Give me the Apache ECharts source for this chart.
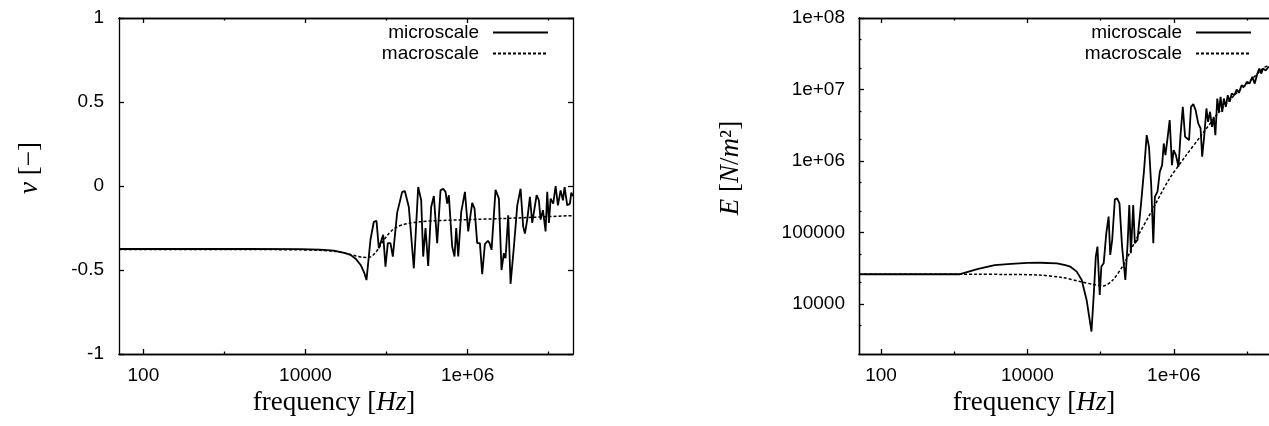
<!DOCTYPE html>
<html>
<head>
<meta charset="utf-8">
<script src="https://cdn.jsdelivr.net/npm/echarts@6/dist/echarts.min.js"></script>
<style>
html,body{margin:0;padding:0;background:#fff;}
#chart{width:1269px;height:426px;}
</style>
</head>
<body>
<div id="chart"></div>
<script>
// ---------- data ----------
const leftMicroFreq = [50, 300, 2000, 8670, 15000, 22400, 30000, 35900, 42000, 48000, 53000, 56600, 63400, 69700, 75200, 80400, 90900, 97100, 103800, 111900, 119600, 135200, 156000, 168300, 188400, 217300, 245900, 267800, 283400, 302700, 326600, 355600, 383700, 402400, 421700, 463700, 500400, 534800, 560700, 587500, 645700, 690500, 724400, 767200, 835700, 927500, 1019000, 1141000, 1219000, 1315000, 1419000, 1516000, 1636000, 1782000, 1868000, 1977000, 2215000, 2435000, 2624000, 2807000, 2942000, 3175000, 3394000, 3733000, 4105000, 4510000, 4860000, 5100000, 5450000, 5880000, 6280000, 6590000, 7110000, 7590000, 7960000, 8510000, 9180000, 9620000, 10090000, 10590000, 11410000, 12200000, 13030000, 14060000, 15030000, 15750000, 16990000, 18330000, 19040000, 20000000];
const leftMicroNu = [-0.375, -0.375, -0.375, -0.376, -0.379, -0.385, -0.398, -0.41, -0.435, -0.47, -0.515, -0.56, -0.32, -0.213, -0.208, -0.37, -0.29, -0.48, -0.34, -0.34, -0.42, -0.16, -0.035, -0.03, -0.125, -0.49, -0.006, -0.085, -0.42, -0.25, -0.476, -0.125, -0.06, -0.055, -0.34, -0.026, -0.016, -0.035, -0.105, -0.055, -0.36, -0.42, -0.25, -0.42, -0.154, -0.035, -0.27, -0.10, -0.134, -0.34, -0.34, -0.525, -0.346, -0.326, -0.34, -0.38, -0.022, -0.075, -0.5, -0.40, -0.43, -0.174, -0.583, -0.36, -0.115, -0.016, -0.243, -0.283, -0.20, -0.065, -0.22, -0.22, -0.055, -0.085, -0.20, -0.144, -0.27, -0.035, -0.22, -0.075, -0.105, 0.0, -0.115, -0.026, -0.085, -0.006, -0.115, -0.105, -0.04, -0.06];

const leftMacroFreq = [50, 2000, 8670, 15000, 22400, 30000, 35900, 43000, 50000, 58000, 65000, 72000, 80400, 90000, 103800, 118000, 135200, 160000, 188400, 260000, 383700, 1019000, 2624000, 6590000, 20000000];
const leftMacroNu = [-0.378, -0.378, -0.38, -0.383, -0.388, -0.398, -0.407, -0.418, -0.424, -0.425, -0.42, -0.4, -0.37, -0.33, -0.29, -0.262, -0.243, -0.23, -0.222, -0.213, -0.207, -0.2, -0.194, -0.186, -0.176];

const rightMicroFreq = [50, 500, 1200, 2130, 3570, 6000, 10000, 15000, 25400, 33000, 38400, 47200, 55200, 64400, 75100, 80900, 86000, 90600, 97300, 102500, 110200, 119600, 128700, 135500, 144100, 156600, 168300, 181100, 196500, 217800, 234200, 246700, 259500, 279100, 293800, 319100, 353900, 392600, 426500, 458400, 492800, 524800, 552100, 599500, 644200, 692800, 729400, 769100, 826000, 879000, 944000, 995000, 1069000, 1161000, 1236000, 1328000, 1428000, 1519000, 1617000, 1720000, 1849000, 1988000, 2159000, 2323000, 2443000, 2600000, 2794000, 2942000, 3130000, 3330000, 3510000, 3700000, 3930000, 4140000, 4360000, 4590000, 4830000, 5140000, 5470000, 5820000, 6190000, 6730000, 7230000, 7780000, 8440000, 9160000, 9950000, 10810000, 11860000, 12760000, 13870000, 14750000, 15700000, 16520000, 18000000, 20000000];
const rightMicroE = [26100, 26100, 26100, 31000, 35000, 36500, 37500, 37800, 37100, 35000, 33400, 28400, 21700, 11400, 4120, 14200, 46000, 63500, 13400, 33400, 37100, 97500, 166700, 48500, 78700, 291000, 300600, 255900, 63500, 21700, 70700, 242600, 51200, 242600, 70700, 78700, 229600, 746500, 2300000, 1580000, 437500, 70700, 317000, 372400, 708100, 877000, 1760000, 1210000, 2180000, 3730000, 877000, 1420000, 1210000, 832000, 2300000, 5730000, 2180000, 2070000, 1960000, 5730000, 6240000, 5140000, 3350000, 2850000, 1150000, 2180000, 5430000, 3530000, 4880000, 3010000, 4150000, 2300000, 7480000, 4880000, 7900000, 4880000, 7480000, 5730000, 8340000, 6730000, 8800000, 8340000, 10000000, 8980000, 11500000, 10900000, 12800000, 12100000, 15000000, 12100000, 16700000, 19600000, 16700000, 19600000, 18500000, 21000000];

const rightMacroFreq = [50, 2000, 5000, 13700, 30000, 52400, 80000, 108000, 147000, 211000, 303000, 508000, 851000, 1430000, 2390000, 4010000, 6730000, 11300000, 16500000, 20000000];
const rightMacroE = [26100, 26100, 25900, 25500, 23500, 20600, 18800, 17900, 21700, 37100, 78700, 206000, 542000, 1150000, 2300000, 4620000, 8340000, 13500000, 19600000, 22000000];

const seriesNames = ['microscale', 'macroscale'];

// tick values / labels
const freqMajorTicks = [100, 10000, 1000000];
const freqMajorLabels = ['100', '10000', '1e+06'];
const freqMinorTicks = [1000, 100000, 10000000];
const nuTicks = [-1, -0.5, 0, 0.5, 1];
const nuLabels = ['-1', '-0.5', '0', '0.5', '1'];
const eMajorTicks = [10000, 100000, 1000000, 10000000, 100000000];
const eMajorLabels = ['10000', '100000', '1e+06', '1e+07', '1e+08'];
const eMinorTicks = [5000, 20000, 50000, 200000, 500000, 2000000, 5000000, 20000000, 50000000];

// ---------- helpers ----------
const SANS = '"Liberation Sans", Arial, Helvetica, sans-serif';
const SERIF = '"Liberation Serif", "Times New Roman", serif';
const BLACK = '#000';
function pair(xs, ys) { return xs.map((x, i) => [x, ys[i]]); }
function labelFor(ticks, labels) {
  return function (v) {
    for (let i = 0; i < ticks.length; i++) {
      if (Math.abs(v - ticks[i]) <= Math.abs(ticks[i]) * 1e-6 + 1e-9) return labels[i];
    }
    return '';
  };
}
const lineSt = { color: BLACK, width: 1.3 };

function freqAxes(grid, nameCfg) {
  const base = {
    gridIndex: grid, type: 'log', logBase: 10, min: 50, max: 20000000,
    splitLine: { show: false }, axisLine: { show: true, onZero: false, lineStyle: lineSt }
  };
  return [
    Object.assign({}, base, {
      position: 'bottom',
      axisTick: { show: true, inside: true, length: 5, customValues: freqMajorTicks, lineStyle: lineSt },
      axisLabel: { show: true, customValues: freqMajorTicks, formatter: labelFor(freqMajorTicks, freqMajorLabels), margin: 12, fontSize: 19, fontFamily: SANS, color: BLACK },
      name: 'frequency [{i|Hz}]', nameLocation: 'middle', nameGap: 35,
      nameTextStyle: { fontFamily: SERIF, fontSize: 27, color: BLACK, padding: nameCfg.pad,
        rich: { i: { fontFamily: SERIF, fontSize: 27, fontStyle: 'italic', color: BLACK } } }
    }),
    Object.assign({}, base, {
      position: 'bottom',
      axisTick: { show: true, inside: true, length: 2.5, customValues: freqMinorTicks, lineStyle: lineSt },
      axisLabel: { show: false }
    }),
    Object.assign({}, base, {
      position: 'top',
      axisTick: { show: true, inside: true, length: 5, customValues: freqMajorTicks, lineStyle: lineSt },
      axisLabel: { show: false }
    }),
    Object.assign({}, base, {
      position: 'top',
      axisTick: { show: true, inside: true, length: 2.5, customValues: freqMinorTicks, lineStyle: lineSt },
      axisLabel: { show: false }
    })
  ];
}

const xAxis = freqAxes(0, { pad: [0, 24, 0, 0] }).concat(freqAxes(1, { pad: [0, 60, 0, 0] }));

const nuBase = { gridIndex: 0, type: 'value', min: -1, max: 1, interval: 0.5, splitLine: { show: false },
  axisLine: { show: true, onZero: false, lineStyle: lineSt } };
const eBase = { gridIndex: 1, type: 'log', logBase: 10, min: 2000, max: 100000000, splitLine: { show: false },
  axisLine: { show: true, onZero: false, lineStyle: lineSt } };

const yAxis = [
  Object.assign({}, nuBase, {
    position: 'left',
    axisTick: { show: true, inside: true, length: 5, lineStyle: lineSt },
    axisLabel: { formatter: labelFor(nuTicks, nuLabels), margin: 15, fontSize: 19, fontFamily: SANS, color: BLACK },
    name: '{i|ν} [−]', nameLocation: 'middle', nameRotate: 90, nameGap: 76,
    nameTextStyle: { fontFamily: SERIF, fontSize: 27, color: BLACK, padding: [0, 0, 0, 36],
      rich: { i: { fontFamily: SERIF, fontSize: 27, fontStyle: 'italic', color: BLACK } } }
  }),
  Object.assign({}, nuBase, {
    position: 'right',
    axisTick: { show: true, inside: true, length: 5, lineStyle: lineSt },
    axisLabel: { show: false }
  }),
  Object.assign({}, eBase, {
    position: 'left',
    axisTick: { show: true, inside: true, length: 5, customValues: eMajorTicks, lineStyle: lineSt },
    axisLabel: { show: true, customValues: eMajorTicks, formatter: labelFor(eMajorTicks, eMajorLabels), margin: 14, fontSize: 19, fontFamily: SANS, color: BLACK },
    name: '{i|E} [{i|N}/{i|m}²]', nameLocation: 'middle', nameRotate: 90, nameGap: 115,
    nameTextStyle: { fontFamily: SERIF, fontSize: 27, color: BLACK, padding: [0, 0, 0, 36],
      rich: { i: { fontFamily: SERIF, fontSize: 27, fontStyle: 'italic', color: BLACK } } }
  }),
  Object.assign({}, eBase, {
    position: 'left',
    axisTick: { show: true, inside: true, length: 2.5, customValues: eMinorTicks, lineStyle: lineSt },
    axisLabel: { show: false }
  })
];

const microStyle = { color: BLACK, width: 1.8, type: 'solid' };
const macroStyle = { color: BLACK, width: 1.5, type: [3, 2] };

const series = [
  { name: seriesNames[0], type: 'line', xAxisIndex: 0, yAxisIndex: 0, data: pair(leftMicroFreq, leftMicroNu),
    symbol: 'none', lineStyle: microStyle, itemStyle: { color: BLACK }, z: 3, animation: false },
  { name: seriesNames[1], type: 'line', xAxisIndex: 0, yAxisIndex: 0, data: pair(leftMacroFreq, leftMacroNu),
    symbol: 'none', smooth: 0.3, lineStyle: macroStyle, itemStyle: { color: BLACK }, z: 2, animation: false },
  { name: seriesNames[0], type: 'line', xAxisIndex: 4, yAxisIndex: 2, data: pair(rightMicroFreq, rightMicroE),
    symbol: 'none', lineStyle: microStyle, itemStyle: { color: BLACK }, z: 3, animation: false },
  { name: seriesNames[1], type: 'line', xAxisIndex: 4, yAxisIndex: 2, data: pair(rightMacroFreq, rightMacroE),
    symbol: 'none', smooth: 0.3, lineStyle: macroStyle, itemStyle: { color: BLACK }, z: 2, animation: false }
];

function legendItem(name, right, top) {
  return {
    data: [name], orient: 'vertical', align: 'right', right: right, top: top, padding: 0,
    itemWidth: 55, itemHeight: 19, selectedMode: false,
    itemStyle: { opacity: 0, borderWidth: 0 },
    textStyle: { fontFamily: SANS, fontSize: 19, color: BLACK, padding: [0, 9, 0, 0] }
  };
}

const option = {
  backgroundColor: '#fff',
  animation: false,
  grid: [
    { left: 119, top: 18, width: 454, height: 336, containLabel: false },
    { left: 859, top: 18, width: 417, height: 336, containLabel: false }
  ],
  legend: [
    legendItem(seriesNames[0], 720, 23),
    legendItem(seriesNames[1], 720, 44),
    legendItem(seriesNames[0], 17, 23),
    legendItem(seriesNames[1], 17, 44)
  ],
  xAxis: xAxis,
  yAxis: yAxis,
  series: series
};

const chart = echarts.init(document.getElementById('chart'), null, { renderer: 'canvas' });
chart.setOption(option);
</script>
</body>
</html>
